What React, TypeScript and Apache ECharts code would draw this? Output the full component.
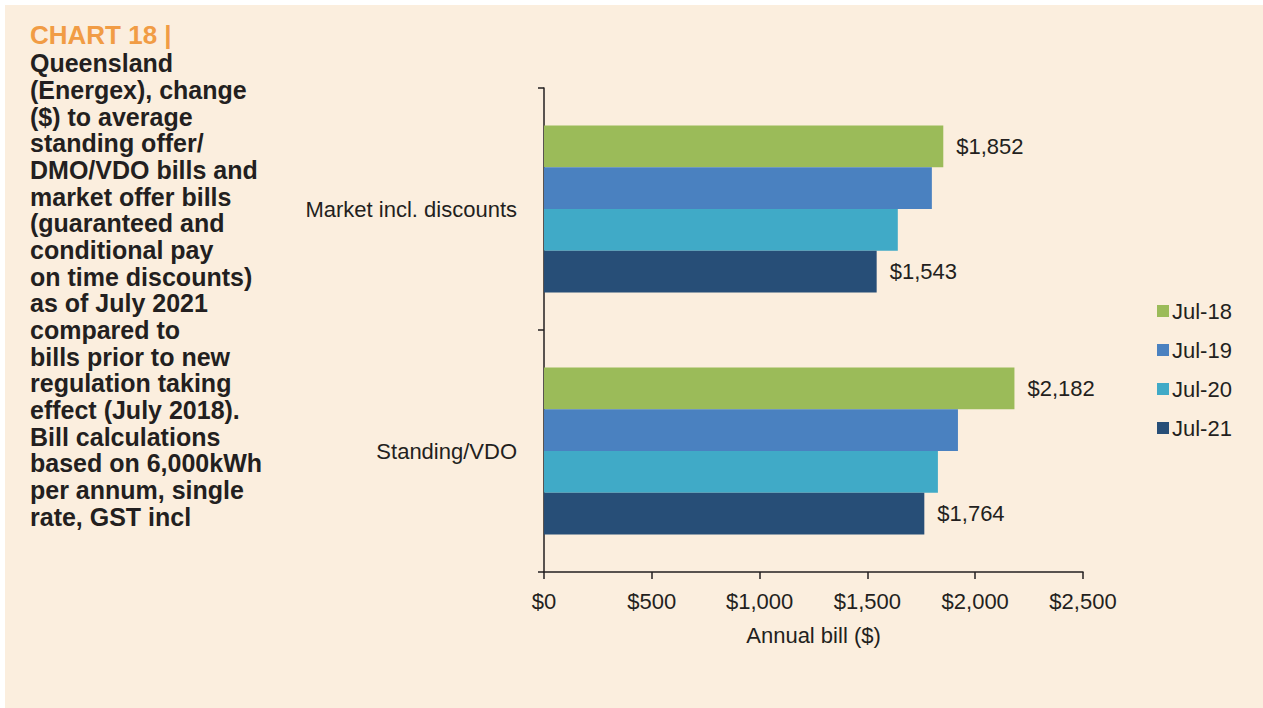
import React, { useEffect, useRef } from "react";
import * as echarts from "echarts";

const categories = ["Market incl. discounts", "Standing/VDO"];
const seriesNames = ["Jul-18", "Jul-19", "Jul-20", "Jul-21"];
const jul18 = [1852, 2182];
const jul19 = [1799, 1920];
const jul20 = [1641, 1827];
const jul21 = [1543, 1764];
const xTicks = [0, 500, 1000, 1500, 2000, 2500];
const colors = ["#9BBB59", "#4A81C0", "#40AAC7", "#274E77"];
const titleLines = [
  "Queensland",
  "(Energex), change",
  "($) to average",
  "standing offer/",
  "DMO/VDO bills and",
  "market offer bills",
  "(guaranteed and",
  "conditional pay",
  "on time discounts)",
  "as of July 2021",
  "compared to",
  "bills prior to new",
  "regulation taking",
  "effect (July 2018).",
  "Bill calculations",
  "based on 6,000kWh",
  "per annum, single",
  "rate, GST incl",
];

const FONT = "'Liberation Sans', Arial, Helvetica, sans-serif";
const fmt = (v: number) => "$" + v.toLocaleString("en-US");

export default function App() {
  const ref = useRef<HTMLDivElement>(null);
  useEffect(() => {
    document.body.style.margin = "0";
    const chart = echarts.init(ref.current!, null, { renderer: "svg" });
    const allData = [jul18, jul19, jul20, jul21];
    const labeled = [true, false, false, true];
    chart.setOption({
      animation: false,
      backgroundColor: "#ffffff",
      textStyle: { fontFamily: FONT },
      graphic: [
        {
          type: "rect",
          z: -10,
          silent: true,
          shape: { x: 5, y: 5, width: 1258, height: 703 },
          style: { fill: "#FBEEDE" },
        },
        {
          type: "text",
          left: 30,
          top: 22,
          style: {
            text: "CHART 18 |",
            fill: "#F19C45",
            font: `bold 26px ${FONT}`,
          },
        },
        {
          type: "text",
          left: 30,
          top: 50,
          style: {
            text: titleLines.join("\n"),
            fill: "#231F20",
            font: `bold 25px ${FONT}`,
            lineHeight: 26.67,
          },
        },
      ],
      legend: {
        orient: "vertical",
        left: 1152,
        top: 295,
        itemWidth: 12,
        itemHeight: 12,
        itemGap: 17,
        icon: "rect",
        data: seriesNames,
        textStyle: { fontSize: 22, color: "#231F20", lineHeight: 22, padding: [0, 0, 0, -2] },
      },
      grid: { left: 544, right: 180, top: 88, bottom: 136 },
      xAxis: {
        type: "value",
        min: xTicks[0],
        max: xTicks[xTicks.length - 1],
        interval: 500,
        name: "Annual bill ($)",
        nameLocation: "middle",
        nameGap: 52,
        nameTextStyle: { fontSize: 22, color: "#231F20" },
        axisLine: { show: true, lineStyle: { color: "#231F20", width: 1.5 } },
        axisTick: { show: true, length: 7, lineStyle: { color: "#231F20", width: 1.5 } },
        axisLabel: { fontSize: 22, color: "#231F20", margin: 18, formatter: (v: number) => fmt(v) },
        splitLine: { show: false },
      },
      yAxis: {
        type: "category",
        inverse: true,
        data: categories,
        axisLine: { show: true, lineStyle: { color: "#231F20", width: 1.5 } },
        axisTick: { show: true, length: 6, lineStyle: { color: "#231F20", width: 1.5 } },
        axisLabel: { fontSize: 22, color: "#231F20", margin: 27 },
      },
      series: seriesNames.map((name, i) => ({
        name,
        type: "bar",
        data: allData[i],
        barGap: "0%",
        barCategoryGap: "31%",
        itemStyle: { color: colors[i] },
        label: {
          show: labeled[i],
          position: "right",
          distance: 13,
          fontSize: 22,
          color: "#231F20",
          formatter: (p: any) => fmt(p.value),
        },
      })),
    });
    return () => chart.dispose();
  }, []);
  return <div ref={ref} style={{ width: 1263, height: 708 }} />;
}
